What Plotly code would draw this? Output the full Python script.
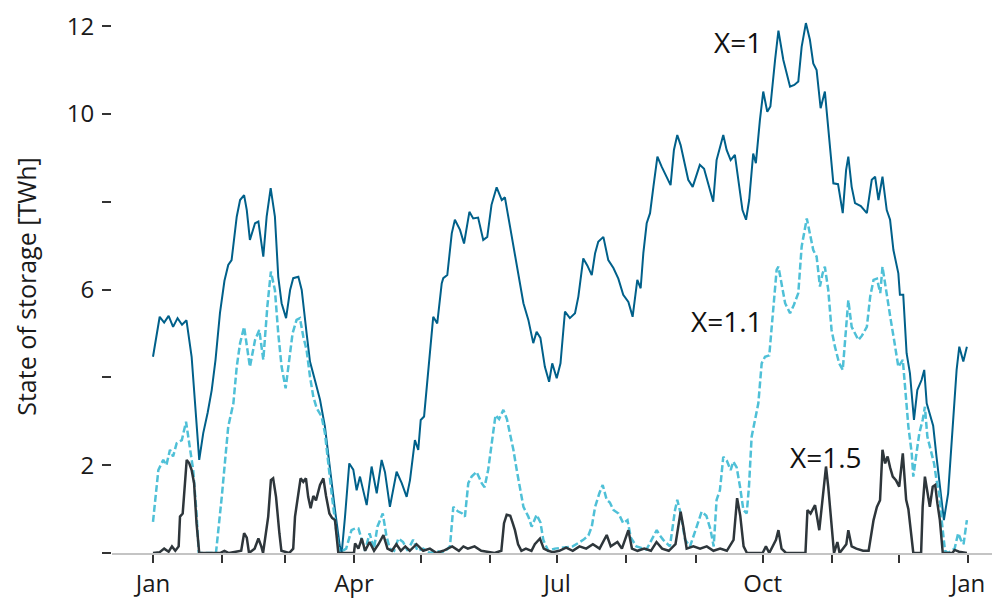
import numpy as np
import pandas as pd
import plotly.graph_objects as go

# ---- data (day of year, state of storage in TWh) ----
days_x1 = [0, 3, 5, 7, 9, 11, 13, 15, 17.3, 19, 20.7, 22.5, 24.5, 26.3, 28, 30, 32, 33.7, 35.2, 37.5,
           39, 40.8, 42, 43.4, 45.7, 47.2, 49.4, 50.9, 52.7, 54.6, 56.1, 57.6, 59.6, 61.4, 62.8, 65.1,
           66.6, 68.8, 70.3, 72.5, 74.8, 77, 79.3, 81.5, 83.7, 84.5, 86, 87.9, 89.7, 91.2, 92.7, 95.7,
           97.9, 100.2, 102.4, 103.9, 106.1, 109.1, 111.4, 113.6, 115.1, 117.3, 118.8, 119.9, 121.4,
           124, 125.5, 127.3, 129.3, 130, 131.8, 133.8, 135.2, 137.5, 139.3, 141.7, 143.4, 145.6,
           147.9, 149.7, 151.6, 153.9, 156.2, 157.6, 159.9, 162.1, 163.6, 165.9, 168.1, 170.3, 171.8,
           173.5, 175.5, 177.4, 178.8, 180.8, 182.5, 184.5, 186.7, 189, 190.5, 192.7, 194.5, 196.5,
           198, 199.4, 201.7, 203.9, 206.2, 208.4, 210.6, 212.9, 214.8, 216.9, 218.4, 219.6, 221.1,
           222.6, 224.1, 225.9, 227.8, 230.1, 231.8, 233.3, 234.8, 236.3, 238, 239.7, 241.7, 243.5,
           244.9, 246.8, 248.7, 250.9, 252.4, 255.4, 256.9, 258.7, 260.6, 262, 264, 265.6, 267,
           268.8, 270, 271.8, 273.3, 275.1, 276.5, 278.6, 280.1, 282.3, 283.8, 285.3, 287.2, 289,
           290.5, 292.4, 294.2, 295.7, 297.2, 299, 300.9, 302.4, 304.7, 306.8, 308.9, 310.4, 311.4,
           312.9, 314.4, 317, 319.7, 321.9, 323.4, 324.9, 326.7, 328.6, 330.1, 331.6, 333.8, 334.5,
           336, 337.5, 339, 340.8, 342.3, 344.2, 345.4, 346.5, 347.9, 349.4, 350.9, 352.4, 354.2,
           356.1, 358.4, 359.9, 361.1, 362.9, 364.5]
vals_x1 = [4.47, 5.38, 5.25, 5.4, 5.15, 5.35, 5.2, 5.3, 4.47, 3.2, 2.12, 2.73, 3.2, 3.71, 4.4, 5.47,
           6.2, 6.56, 6.67, 7.66, 8.04, 8.15, 7.81, 7.13, 7.51, 7.55, 6.75, 7.66, 8.31, 7.66, 6.29,
           5.69, 5.35, 5.99, 6.26, 6.29, 5.99, 5.0, 4.36, 3.94, 3.49, 2.88, 1.89, 0.98, 0.14, 0.0,
           0.83, 2.04, 1.9, 1.43, 1.74, 1.09, 1.97, 1.36, 2.12, 1.84, 1.05, 1.85, 1.59, 1.28, 1.66,
           2.57, 2.35, 3.03, 3.11, 4.55, 5.38, 5.23, 6.14, 6.26, 6.33, 7.28, 7.59, 7.36, 7.05, 7.77,
           7.62, 7.64, 7.13, 7.2, 7.93, 8.33, 8.04, 8.1, 7.43, 6.75, 6.29, 5.69, 5.31, 4.78, 5.04,
           4.9, 4.24, 3.9, 4.32, 3.98, 4.32, 5.5, 5.35, 5.46, 5.84, 6.71, 6.55, 6.33, 6.83, 7.09,
           7.2, 6.67, 6.49, 6.25, 5.88, 5.72, 5.38, 6.22, 6.03, 6.83, 7.51, 7.74, 8.34, 9.03, 8.8,
           8.57, 8.38, 9.18, 9.52, 9.29, 8.9, 8.5, 8.34, 8.61, 8.84, 8.75, 8.42, 8.0, 8.95, 9.52,
           9.18, 8.95, 9.07, 8.57, 7.81, 7.59, 8.04, 9.1, 8.88, 9.86, 10.51, 10.05, 10.17, 11.23,
           11.9, 11.23, 10.93, 10.62, 10.66, 10.74, 11.53, 12.07, 11.69, 11.15, 11.0, 10.13, 10.51,
           9.64, 8.42, 8.4, 7.74, 8.72, 9.03, 8.34, 7.97, 7.9, 7.74, 8.5, 8.57, 8.04, 8.57, 7.81,
           7.59, 6.9, 6.37, 5.88, 5.88, 4.55, 4.09, 3.03, 3.71, 3.94, 4.17, 3.41, 3.14, 2.9, 2.19,
           1.59, 0.75, 1.36, 3.03, 4.17, 4.7, 4.36, 4.7]

days_x11 = [0, 2.4, 4.6, 6, 7.6, 9, 10.6, 12.9, 14.8, 16.6, 18, 19.5, 20.5, 28.2, 30.8, 33.7, 36,
            37.5, 39, 40.8, 42.2, 43.4, 45.7, 47.6, 49.4, 51.2, 52.8, 54.6, 56.1, 57.6, 59.4, 61,
            62.5, 64.3, 65.8, 67.3, 68.8, 70.3, 71.8, 73.3, 75.5, 77, 78.5, 80, 82.2, 83.5, 86.5,
            88.9, 90.5, 92, 93.5, 95, 97, 99, 100.5, 101.7, 102.9, 104.5, 106, 108, 109.9, 112, 114,
            116.5, 118.5, 121, 124, 127, 130, 133, 134.5, 136.5, 138.5, 139.7, 141.2, 142.7, 144.9,
            147.2, 148.5, 150.1, 151.6, 153.4, 155, 156.9, 158.5, 159.9, 161.4, 162.9, 164.4, 165.9,
            168.1, 169.6, 171.8, 173.5, 174.8, 177, 180, 184, 188, 192.7, 195, 196.5, 198, 199.9,
            201.4, 203.2, 204.6, 206.2, 208.5, 210.6, 212.5, 214, 216.5, 221, 225.6, 227, 228.5,
            231.5, 233.8, 234.8, 236.3, 238.3, 240.5, 243.5, 245.7, 247.8, 249.6, 251.1, 252.4,
            253.9, 255.4, 257, 258.7, 259.9, 261.4, 262.9, 264.4, 265.9, 266.9, 268.1, 269.6, 271.1,
            272.6, 274.1, 276, 277.8, 279.3, 280.1, 281.6, 283.1, 285.3, 287, 289, 290.5, 292.8,
            294.2, 295.7, 297.2, 298.7, 299.9, 300.9, 302.4, 303.9, 305.4, 307.3, 308.9, 310.4,
            311.4, 312.9, 314.4, 315.9, 317.5, 319.7, 321.2, 322.7, 324.2, 325.7, 326.7, 328.6,
            330.4, 331.9, 333.8, 335.8, 336.8, 338.3, 339.8, 340.5, 341.7, 343.2, 344.7, 345.7,
            346.8, 348.3, 349.8, 350.9, 352.1, 353.2, 354.7, 356, 359, 360.6, 361.8, 363, 364.5]
vals_x11 = [0.71, 1.89, 2.12, 2.0, 2.35, 2.2, 2.5, 2.57, 2.99, 2.35, 1.89, 0.9, 0.0, 0.0, 1.28,
            2.88, 3.41, 4.24, 4.78, 5.15, 4.62, 4.24, 4.85, 5.08, 4.4, 5.61, 6.41, 5.99, 5.0, 4.24,
            3.75, 4.47, 5.0, 5.31, 5.35, 4.93, 4.62, 4.02, 3.56, 3.3, 3.11, 2.73, 1.97, 1.36, 0.45,
            0.0, 0.1, 0.52, 0.56, 0.56, 0.3, 0.05, 0.45, 0.1, 0.6, 0.75, 0.9, 0.4, 0.1, 0.05, 0.33,
            0.25, 0.05, 0.3, 0.05, 0.1, 0.0, 0.05, 0.0, 0.15, 1.05, 0.95, 0.9, 0.83, 1.59, 1.74,
            1.85, 1.59, 1.5, 1.89, 2.5, 3.14, 3.05, 3.26, 3.05, 2.73, 2.35, 1.89, 1.43, 1.05, 0.83,
            0.6, 0.87, 0.7, 0.3, 0.05, 0.1, 0.12, 0.15, 0.3, 0.4, 0.6, 1.05, 1.36, 1.55, 1.21, 1.15,
            0.98, 0.9, 0.68, 0.75, 0.35, 0.15, 0.08, 0.52, 0.4, 0.3, 0.15, 0.98, 1.21, 0.9, 0.3,
            0.15, 0.6, 0.94, 0.85, 0.55, 0.15, 1.21, 1.43, 2.19, 2.1, 1.89, 2.08, 1.95, 1.51, 0.98,
            0.9, 1.51, 2.65, 3.03, 3.41, 4.32, 4.47, 4.5, 5.5, 6.45, 6.52, 6.14, 5.69, 5.46, 5.65,
            5.92, 6.98, 7.62, 7.28, 6.9, 6.75, 6.07, 6.37, 6.52, 6.0, 5.08, 4.7, 4.32, 4.17, 5.15,
            5.76, 5.15, 5.0, 4.85, 4.95, 5.15, 5.84, 6.22, 6.25, 5.92, 6.52, 5.84, 5.31, 4.85, 4.24,
            4.4, 3.79, 2.88, 2.27, 1.74, 2.19, 2.73, 3.03, 3.33, 2.65, 2.35, 2.04, 1.66, 1.36, 0.75,
            0.05, 0.0, 0.1, 0.45, 0.3, 0.2, 0.75]

days_x15 = [0, 3, 5, 7, 8.5, 10, 11.5, 12.1, 13.3, 14.3, 15.1, 16.2, 17.3, 18.4, 19.5, 20.7, 30, 32,
            34, 39.5, 40.8, 42, 43, 45.5, 47.2, 48.5, 49.3, 51.6, 52.8, 53.8, 55.1, 56.6, 57.5, 61,
            62.8, 63.6, 65.1, 66.1, 67.3, 68.5, 69.5, 70.6, 71.8, 73, 74.8, 76.3, 77.5, 79, 80.2,
            81.5, 83, 90, 90.5, 92, 93.5, 95, 97, 99, 101, 103.2, 105, 107, 109, 111, 113, 115, 118,
            121, 124, 127, 130, 134, 137, 139, 141, 144, 147, 150, 153, 156, 157.2, 158.4, 160, 161,
            162.1, 163.5, 165, 167, 169.5, 171, 173.3, 175, 177, 179, 182, 185, 188, 191, 194, 197,
            200, 203.2, 205, 208, 210, 212.9, 214.5, 217, 220, 223, 225.5, 228, 231, 234, 236.3,
            237.5, 239, 242, 245, 248, 251, 254, 257, 260, 261.6, 263, 264.5, 266, 273, 274.5, 276,
            279, 280.1, 281.5, 283.5, 292.2, 293.1, 294.5, 296.5, 298.4, 299.9, 301.4, 302.4, 303.9,
            305, 306.5, 307.5, 310.5, 311.4, 312.9, 315, 318, 320.5, 322.7, 324.2, 325.6, 326.7,
            327.9, 329, 330.1, 331.3, 332.8, 334.2, 335.8, 337.3, 338.3, 339.5, 340.5, 344, 344.7,
            345.7, 346.8, 347.9, 349.2, 350.3, 351.3, 352.4, 353.7, 358, 359, 361, 364.5]
vals_x15 = [0.0, 0.02, 0.1, 0.03, 0.15, 0.05, 0.15, 0.83, 0.9, 1.66, 2.12, 2.05, 1.89, 1.59, 0.68,
            0.0, 0.0, 0.05, 0.0, 0.05, 0.45, 0.35, 0.0, 0.1, 0.33, 0.15, 0.0, 0.83, 1.66, 1.7, 1.28,
            0.45, 0.05, 0.0, 0.1, 0.83, 1.43, 1.7, 1.62, 1.7, 1.28, 1.02, 1.3, 1.2, 1.55, 1.7, 1.3,
            0.9, 0.8, 0.75, 0.0, 0.0, 0.22, 0.1, 0.33, 0.05, 0.25, 0.05, 0.2, 0.41, 0.1, 0.05, 0.2,
            0.05, 0.15, 0.05, 0.2, 0.05, 0.1, 0.0, 0.05, 0.15, 0.05, 0.15, 0.1, 0.15, 0.05, 0.02,
            0.0, 0.05, 0.68, 0.87, 0.85, 0.7, 0.52, 0.2, 0.05, 0.1, 0.05, 0.2, 0.33, 0.1, 0.05, 0.02,
            0.05, 0.12, 0.05, 0.15, 0.1, 0.2, 0.1, 0.41, 0.15, 0.25, 0.1, 0.52, 0.1, 0.05, 0.1, 0.05,
            0.25, 0.1, 0.05, 0.2, 0.94, 0.6, 0.1, 0.15, 0.1, 0.15, 0.05, 0.1, 0.05, 0.3, 1.25, 0.85,
            0.15, 0.0, 0.0, 0.15, 0.0, 0.3, 0.52, 0.1, 0.0, 0.0, 0.98, 0.9, 1.09, 0.52, 1.21, 1.97,
            1.51, 0.52, 0.0, 0.25, 0.0, 0.2, 0.52, 0.15, 0.1, 0.05, 0.05, 0.75, 1.05, 1.2, 2.35,
            2.04, 2.2, 1.95, 1.74, 1.65, 1.51, 2.27, 1.21, 1.0, 0.45, 0.0, 0.0, 1.05, 1.74, 1.4,
            1.05, 1.51, 1.55, 1.13, 0.75, 0.0, 0.0, 0.07, 0.03, 0.0]

series_names = ["X=1", "X=1.1", "X=1.5"]
month_ticks = pd.date_range("2019-01-01", "2020-01-01", freq="MS")
month_labels = ["Jan", "", "", "Apr", "", "", "Jul", "", "", "Oct", "", "", "Jan"]
y_ticks = [0, 2, 4, 6, 8, 10, 12]
y_labels = ["", "2", "", "6", "", "10", "12"]

# label anchors (day of year, value)
label_days = [262, 257, 301.4]
label_vals = [11.64, 5.28, 2.19]

start = pd.Timestamp("2019-01-01")


def to_dates(days):
    return start + pd.to_timedelta(np.array(days, dtype=float), unit="D")


FONT = "Open Sans"
fig = go.Figure()
fig.add_trace(go.Scatter(x=to_dates(days_x1), y=vals_x1, mode="lines", name=series_names[0],
                         line=dict(color="#00608a", width=2)))
fig.add_trace(go.Scatter(x=to_dates(days_x11), y=vals_x11, mode="lines", name=series_names[1],
                         line=dict(color="#4fc0d7", width=2.5, dash="7px,3px")))
fig.add_trace(go.Scatter(x=to_dates(days_x15), y=vals_x15, mode="lines", name=series_names[2],
                         line=dict(color="#2e363b", width=2.5)))

for name, d, v in zip(series_names, label_days, label_vals):
    fig.add_annotation(x=start + pd.Timedelta(days=d), y=v, text=name, showarrow=False,
                       font=dict(family=FONT, size=28, color="#111111"))

# the page body has an 8px margin, so the figure is 8px smaller on each axis
fig.update_layout(
    width=992, height=591,
    margin=dict(l=104, r=0, t=12, b=46),
    paper_bgcolor="white", plot_bgcolor="white",
    showlegend=False,
    font=dict(family=FONT, size=24, color="#1a1a1a"),
)
fig.update_xaxes(
    range=[start - pd.Timedelta(days=18.36), start + pd.Timedelta(days=365 + 14.33)],
    tickvals=month_ticks, ticktext=month_labels,
    showline=True, linecolor="#c4c4c4", linewidth=1.5,
    ticks="outside", ticklen=8, tickwidth=1.5, tickcolor="#333333",
    showgrid=False, zeroline=False,
    tickfont=dict(family=FONT, size=24, color="#1a1a1a"),
)
fig.update_yaxes(
    range=[0, 12.14],
    tickvals=y_ticks, ticktext=y_labels,
    showline=False, showgrid=False, zeroline=False,
    ticks="outside", ticklen=9, tickwidth=1.5, tickcolor="#333333",
    ticklabelstandoff=3,
    tickfont=dict(family=FONT, size=24, color="#1a1a1a"),
    title=dict(text="State of storage [TWh]", font=dict(family=FONT, size=25, color="#1a1a1a"),
               standoff=22),
)

fig.write_html("out.html")
